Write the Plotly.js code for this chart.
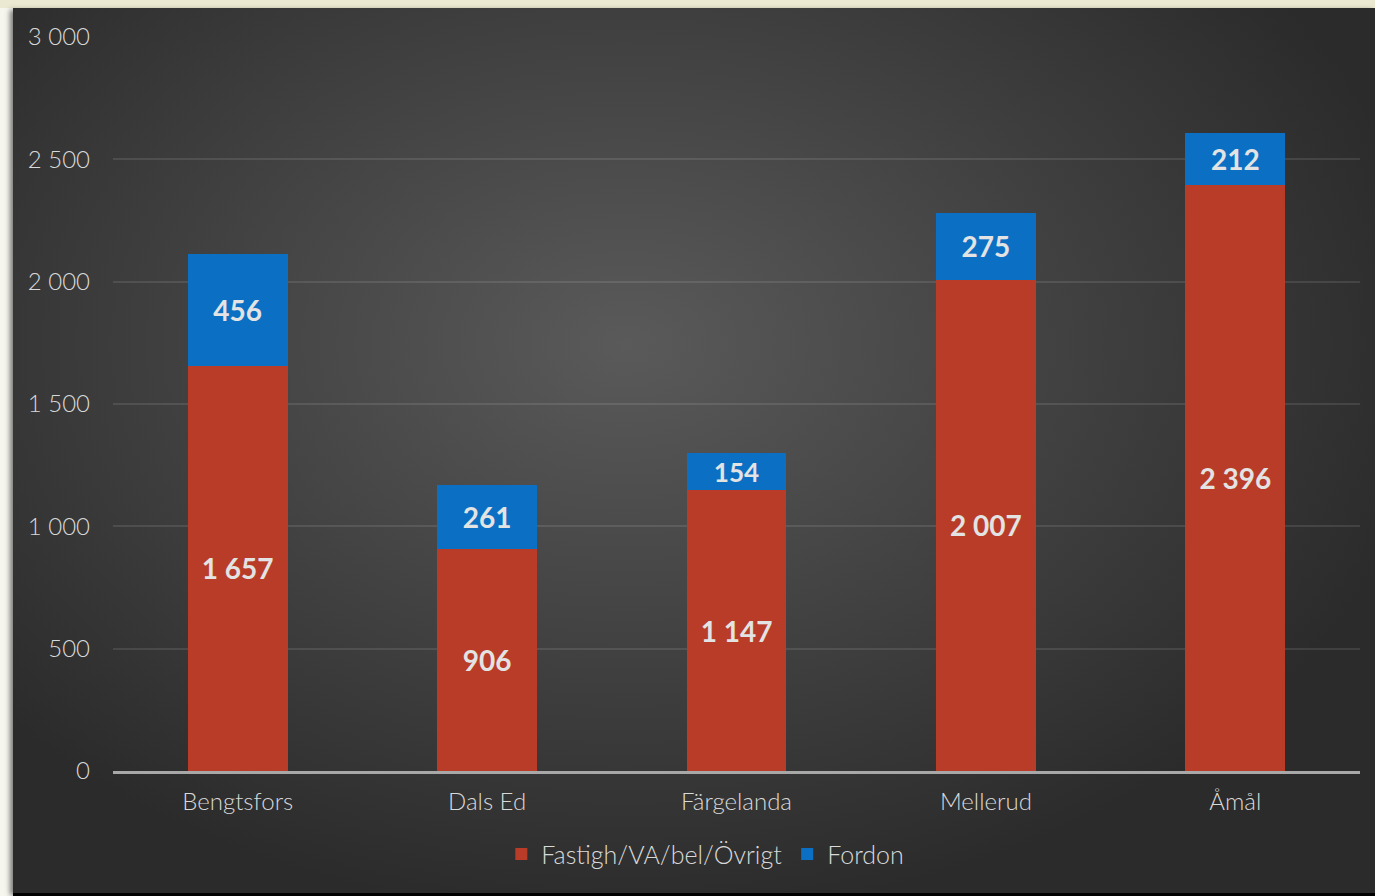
<!DOCTYPE html>
<html>
<head>
<meta charset="utf-8">
<script src="https://cdn.plot.ly/plotly-3.0.1.min.js"></script>
<style>
  html, body { margin:0; padding:0; width:1375px; height:896px; overflow:hidden; background:#f6f5ee; }
  #topstrip { position:absolute; left:0; top:0; width:1375px; height:8px; background:#ece9d2; }
  #panel { position:absolute; left:13px; top:8px; width:1362px; height:885px;
           background: radial-gradient(ellipse 60% 65% at 45% 38%, #5a5a5a 0%, #454545 45%, #2b2b2b 100%);
           box-shadow: -3px 2px 5px rgba(0,0,0,0.5); }
  #bottomline { position:absolute; left:13px; top:893px; width:1362px; height:3px; background:#000; }
  #chart { position:absolute; left:0; top:0; width:1375px; height:896px; }
</style>
</head>
<body>
<div id="topstrip"></div>
<div id="panel"></div>
<div id="bottomline"></div>
<div id="chart"></div>
<script>
const categories = ["Bengtsfors", "Dals Ed", "Färgelanda", "Mellerud", "Åmål"];
const fastighValues = [1657, 906, 1147, 2007, 2396];
const fordonValues = [456, 261, 154, 275, 212];
const seriesNames = ["Fastigh/VA/bel/Övrigt", "Fordon"];
const yTickValues = [0, 500, 1000, 1500, 2000, 2500, 3000];

const labelFont = {family: "Lato, 'DejaVu Sans', sans-serif", size: 28, color: "#e3e3e3", weight: 700};
const lightFont = {family: "Lato, 'DejaVu Sans', sans-serif", size: 24, color: "#d9d9d9", weight: 300};

const traces = [
  {
    type: "bar", name: seriesNames[0], x: categories, y: fastighValues,
    marker: {color: "#b83c27"},
    texttemplate: "<b>%{y:,d}</b>", textposition: "inside", insidetextanchor: "middle",
    textfont: labelFont, insidetextfont: labelFont, textangle: 0, cliponaxis: false
  },
  {
    type: "bar", name: seriesNames[1], x: categories, y: fordonValues,
    marker: {color: "#0b70c4"},
    texttemplate: "<b>%{y:,d}</b>", textposition: "inside", insidetextanchor: "middle",
    textfont: labelFont, insidetextfont: labelFont, textangle: 0, cliponaxis: false
  }
];

const layout = {
  width: 1375, height: 896,
  barmode: "stack", bargap: 0.6,
  separators: ", ",
  paper_bgcolor: "rgba(0,0,0,0)", plot_bgcolor: "rgba(0,0,0,0)",
  margin: {l: 113, r: 15, t: 37, b: 125},
  font: lightFont,
  xaxis: {
    showgrid: false, showline: true, linecolor: "#a8a8a8", linewidth: 2.5,
    ticks: "", tickfont: lightFont, ticklabelstandoff: 8
  },
  yaxis: {
    range: [0, 3000], tickvals: yTickValues, tickformat: ",d",
    showgrid: true, gridcolor: "rgba(255,255,255,0.1)", gridwidth: 2,
    zeroline: false, showline: false, ticks: "",
    tickfont: lightFont, ticklabelstandoff: 22
  },
  showlegend: true,
  legend: {
    orientation: "h", x: 0.475, xanchor: "center", y: -0.082, yanchor: "top",
    font: Object.assign({}, lightFont, {size: 25}), traceorder: "normal",
    itemwidth: 30, bgcolor: "rgba(0,0,0,0)"
  }
};

Plotly.newPlot("chart", traces, layout, {displayModeBar: false, staticPlot: true});
</script>
</body>
</html>
